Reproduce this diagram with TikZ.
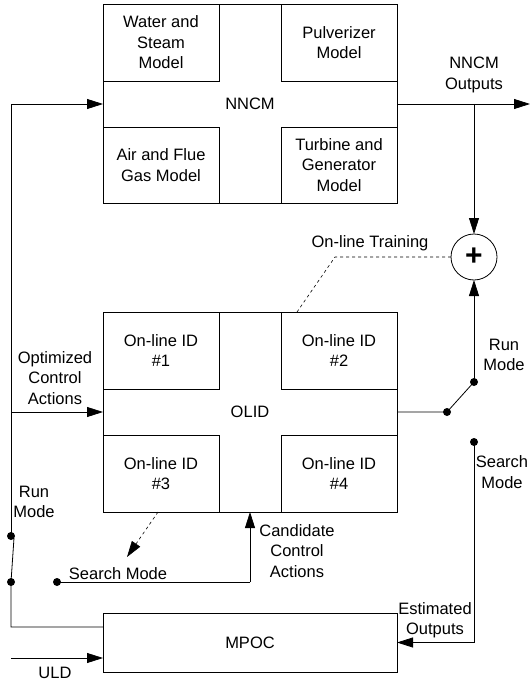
\documentclass[tikz,border=0pt]{standalone}
\usepackage{fontspec}
\setmainfont{Liberation Sans}
\usetikzlibrary{arrows.meta,calc}
\begin{document}
\begin{tikzpicture}[x=1pt,y=-1pt,
  font=\fontsize{16.5}{20.5}\selectfont,
  every node/.style={inner sep=0pt,outer sep=0pt},
  big/.style={draw,line width=0.8pt,minimum width=294pt},
  sub/.style={draw,line width=0.8pt,minimum width=116pt,minimum height=77pt,align=center,fill=white},
  lbl/.style={align=center},
  ln/.style={line width=0.8pt},
  arr/.style={line width=0.8pt,-{Triangle[length=16pt,width=10pt]}},
  dot/.style={circle,fill,minimum size=8pt},
]
\useasboundingbox (0,0) rectangle (530,682);
% NNCM
\node[big,minimum height=199pt] (nncm) at (250,104) {NNCM};
\node[sub] (ws) at (161,42.5) {Water and\\Steam\\Model};
\node[sub] (pv) at (339,42.5) {Pulverizer\\Model};
\node[sub,minimum height=76pt] (af) at (161,165) {Air and Flue\\Gas Model};
\node[sub,minimum height=76pt] (tg) at (339,165) {Turbine and\\Generator\\Model};
% OLID
\node[big,minimum height=200pt] (olid) at (250,412) {OLID};
\node[sub] (id1) at (161,350.5) {On-line ID\\\#1};
\node[sub] (id2) at (339,350.5) {On-line ID\\\#2};
\node[sub] (id3) at (161,473.5) {On-line ID\\\#3};
\node[sub] (id4) at (339,473.5) {On-line ID\\\#4};
% MPOC
\node[big,minimum height=59pt] (mpoc) at (250,642.5) {MPOC};
% sum
\node[draw,circle,line width=0.8pt,minimum size=46pt] (sum) at (474,257) {};
\node at (sum.center) {\fontsize{30}{30}\selectfont\bfseries +};
% coordinates and dots
\coordinate (out) at (530,104);
\coordinate (br) at (474,104);
\node[dot] (piv) at (447,412) {};
\node[dot] (rtop) at (474,382) {};
\node[dot] (sdot) at (474,442) {};
\node[dot] (ltop) at (11,536) {};
\node[dot] (lbot) at (11,582) {};
\coordinate (arm) at (14,538);
\coordinate (lt) at (11,104);
\coordinate (lm) at (11,412);
\coordinate (mpl) at (103,627);
\coordinate (mpc) at (11,627);
\coordinate (uld) at (11,658);
\coordinate (uldend) at (103,658);
\node[dot] (smdot) at (57,582) {};
\coordinate (smc) at (250,582);
\coordinate (d1) at (158,512);
\coordinate (d2) at (127,557);
\coordinate (t1) at (335,257);
\coordinate (t2) at (297,312);
% connectors
\draw[arr] (nncm.east) -- (out);
\draw[arr] (br) -- (sum.north);
\draw[ln] (olid.east) -- (piv.center) -- (rtop.center);
\draw[arr] (rtop.center) -- (sum.south);
\draw[arr] (sdot.center) |- (mpoc.east);
\draw[ln] (mpl) -- (mpc) -- (lbot.center) -- (arm);
\draw[arr] (ltop.center) -- (lt) -- (nncm.west);
\draw[arr] (lm) -- (olid.west);
\draw[arr] (uld) -- (uldend);
\draw[ln] (smdot.center) -- (smc);
\draw[arr] (smc) -- (olid.south);
\draw[arr,dashed,line width=0.6pt] (d1) -- (d2);
\draw[ln,dashed,line width=0.6pt] (sum.west) -- (t1) -- (t2);
% labels
\node[lbl] at (474,75) {NNCM\\Outputs};
\node[lbl] at (370,243) {On-line Training};
\node[lbl] at (504,355) {Run\\Mode};
\node[lbl] at (502,472) {Search\\Mode};
\node[lbl] at (435,620) {Estimated\\Outputs};
\node[lbl] at (297,551) {Candidate\\Control\\Actions};
\node[lbl] at (118,574) {Search Mode};
\node[lbl] at (34,502) {Run\\Mode};
\node[lbl] at (55,378) {Optimized\\Control\\Actions};
\node[lbl] at (55,673) {ULD};
\end{tikzpicture}
\end{document}
